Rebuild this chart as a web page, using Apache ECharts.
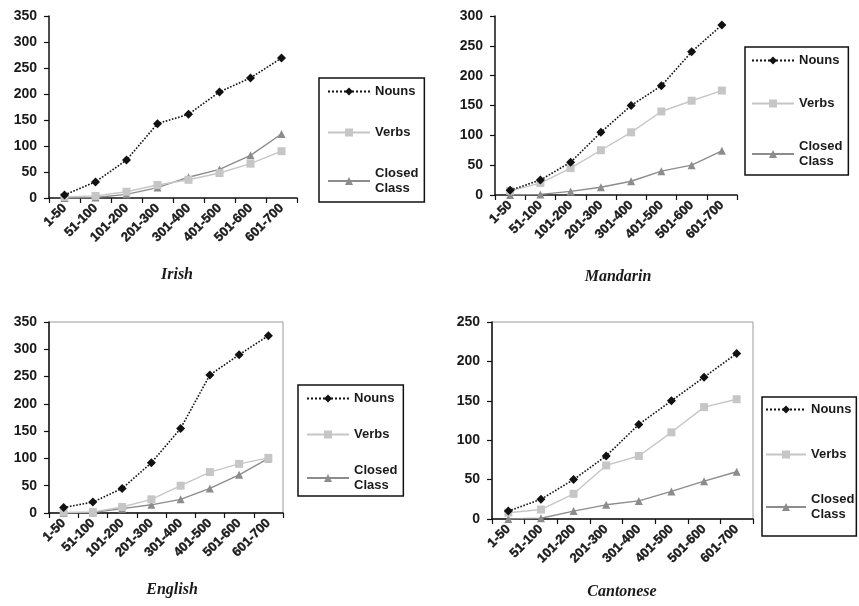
<!DOCTYPE html>
<html>
<head>
<meta charset="utf-8">
<script src="https://cdn.jsdelivr.net/npm/echarts@6/dist/echarts.min.js"></script>
<style>html,body{margin:0;padding:0;background:#fff}#c{width:859px;height:606px}</style>
</head>
<body>
<div id="c"></div>
<script>
const categories = ['1-50','51-100','101-200','201-300','301-400','401-500','501-600','601-700'];
const seriesNames = ['Nouns','Verbs','Closed Class'];

const irishNouns  = [6, 31, 73, 143, 161, 204, 231, 269];
const irishVerbs  = [2, 4, 12, 25, 35, 48, 66, 90];
const irishClosed = [0, 1, 7, 20, 40, 55, 82, 123];

const mandarinNouns  = [8, 25, 55, 105, 150, 183, 240, 285];
const mandarinVerbs  = [7, 20, 45, 75, 105, 140, 158, 175];
const mandarinClosed = [0, 1, 6, 13, 23, 40, 50, 74];

const englishNouns  = [10, 20, 45, 92, 155, 253, 290, 325];
const englishVerbs  = [1, 2, 11, 25, 50, 75, 90, 101];
const englishClosed = [0, 1, 8, 15, 25, 45, 70, 100];

const cantoneseNouns  = [10, 25, 50, 80, 120, 150, 180, 210];
const cantoneseVerbs  = [8, 12, 32, 68, 80, 110, 142, 152];
const cantoneseClosed = [0, 1, 10, 18, 23, 35, 48, 60];

const panelTitles = ['Irish', 'Mandarin', 'English', 'Cantonese'];
const yMax = [350, 300, 350, 250];

const panels = [
  {data:[irishNouns, irishVerbs, irishClosed]},
  {data:[mandarinNouns, mandarinVerbs, mandarinClosed]},
  {data:[englishNouns, englishVerbs, englishClosed]},
  {data:[cantoneseNouns, cantoneseVerbs, cantoneseClosed]}
];

const FONT = 'Liberation Sans, Arial, sans-serif';
const TXT = '#1a1a1a';

const grids = [
  {left: 49, top: 16, width: 248, height: 182, show: false},
  {left: 495, top: 16, width: 242, height: 179, show: false},
  {left: 49, top: 322, width: 234, height: 191, show: true, borderColor: '#9a9a9a', borderWidth: 1},
  {left: 492, top: 322, width: 261, height: 197, show: true, borderColor: '#9a9a9a', borderWidth: 1}
];

const legendPos = [
  {left: 319, top: 78, gap: 26, itemWidth: 42, padding: [6, 6, 6, 8]},
  {left: 745, top: 47, gap: 28, itemWidth: 42, padding: [6, 6, 6, 6]},
  {left: 298, top: 385, gap: 21, itemWidth: 42, padding: [6, 6, 3, 8]},
  {left: 762, top: 397, gap: 30, itemWidth: 40, padding: [5, 2, 14, 3]}
];

const titlePos = [
  {x: 172, y: 262},
  {x: 613, y: 264},
  {x: 167, y: 577},
  {x: 617, y: 579}
];

const styles = [
  {color: '#111111', symbol: 'diamond', size: 9, lineType: 'dotted', width: 1.6},
  {color: '#c6c6c6', symbol: 'rect', size: 8, lineType: 'solid', width: 1.4},
  {color: '#8c8c8c', symbol: 'triangle', size: 8, lineType: 'solid', width: 1.4}
];

const option = {
  backgroundColor: '#fff',
  animation: false,
  grid: grids,
  title: panelTitles.map((t, i) => ({
    text: t, left: titlePos[i].x, top: titlePos[i].y, textAlign: 'center',
    textStyle: {fontFamily: 'Liberation Serif, Times New Roman, serif', fontStyle: 'italic', fontWeight: 'bold', fontSize: 16, color: TXT}
  })),
  legend: legendPos.map((p, i) => ({
    data: seriesNames,
    orient: 'vertical',
    left: p.left, top: p.top,
    itemWidth: p.itemWidth, itemHeight: 10, itemGap: p.gap,
    padding: p.padding,
    borderColor: '#111', borderWidth: 1.5,
    selectedMode: false,
    formatter: n => n.replace(' ', '\n'),
    textStyle: {fontFamily: FONT, fontWeight: 'bold', fontSize: 13, color: TXT, lineHeight: 15}
  })),
  xAxis: grids.map((g, i) => ({
    type: 'category', gridIndex: i, data: categories, boundaryGap: true,
    axisLine: {lineStyle: {color: '#111', width: 1.5}},
    axisTick: {show: true, length: 5, interval: 0, lineStyle: {color: '#111', width: 1.2}},
    axisLabel: {interval: 0, rotate: 45, margin: 8, fontFamily: FONT, fontWeight: 'bold', fontSize: 13, color: TXT,
      textBorderColor: TXT, textBorderWidth: 0.4},
    splitLine: {show: false}
  })),
  yAxis: grids.map((g, i) => ({
    type: 'value', gridIndex: i, min: 0, max: yMax[i], interval: 50,
    axisLine: {show: true, lineStyle: {color: '#111', width: 1.5}},
    axisTick: {show: true, length: 5, lineStyle: {color: '#111', width: 1.2}},
    axisLabel: {margin: 12, fontFamily: FONT, fontWeight: 'bold', fontSize: 14, color: TXT},
    splitLine: {show: false}
  })),
  series: []
};

panels.forEach((p, i) => {
  p.data.forEach((vals, k) => {
    const s = styles[k];
    option.series.push({
      type: 'line', name: seriesNames[k], xAxisIndex: i, yAxisIndex: i,
      data: vals, symbol: s.symbol, symbolSize: s.size, showSymbol: true,
      z: 3 - k + 2,
      lineStyle: {color: s.color, type: s.lineType, width: s.width},
      itemStyle: {color: s.color, borderWidth: 0}
    });
  });
});

const chart = echarts.init(document.getElementById('c'), null, {renderer: 'canvas'});
chart.setOption(option);
</script>
</body>
</html>
